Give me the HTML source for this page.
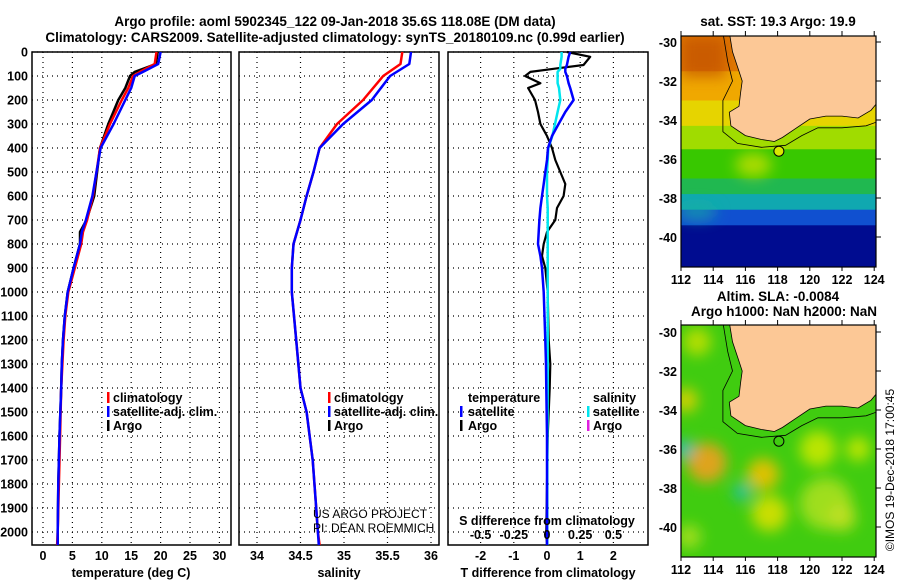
<!DOCTYPE html>
<html><head><meta charset="utf-8">
<style>
body{margin:0;background:#fff;}
svg{display:block;font-family:"Liberation Sans",sans-serif;}
.t{font-size:13.5px;fill:#000;font-weight:bold;}
.tk{font-size:12.5px;font-weight:bold;fill:#000;}
.lg{font-size:12.5px;font-weight:bold;fill:#000;}
.cr{font-size:12px;fill:#000;}
</style></head><body>
<svg id="s" width="900" height="580" viewBox="0 0 900 580">
<defs><filter id="blur" x="-50%" y="-50%" width="200%" height="200%"><feGaussianBlur stdDeviation="7"/></filter></defs>
<text class="t" x="335" y="26" text-anchor="middle">Argo profile: aoml 5902345_122 09-Jan-2018 35.6S 118.08E (DM data)</text>
<text class="t" x="335" y="42" text-anchor="middle">Climatology: CARS2009. Satellite-adjusted climatology: synTS_20180109.nc (0.99d earlier)</text>
<text class="t" x="778" y="26" text-anchor="middle" font-size="13">sat. SST: 19.3 Argo: 19.9</text>
<text class="t" x="778" y="301" text-anchor="middle" font-size="13">Altim. SLA: -0.0084</text>
<text class="t" x="784" y="316" text-anchor="middle" font-size="13">Argo h1000: NaN h2000: NaN</text>
<text class="cr" x="0" y="0" transform="translate(894,470) rotate(-90)" text-anchor="middle" font-size="13">©IMOS 19-Dec-2018 17:00:45</text>
<g id="plots"></g>
</svg>
<script>
// ---- data ----
const depthT = [0,50,83,100,150,200,300,400,500,600,700,750,800,900,1000,1100,1200,1300,1400,1600,1800,2000,2054];
const tempArgo = [19.5,19.2,15.6,14.8,14.0,12.8,11.1,9.7,9.2,8.7,7.4,6.3,6.3,5.2,4.2,3.7,3.4,3.2,3.1,2.8,2.6,2.5,2.5];
const tempClim = [19.3,19.0,16.5,15.3,14.5,13.4,11.4,9.7,9.1,8.5,7.5,6.8,6.5,5.4,4.3,3.8,3.5,3.3,3.1,2.9,2.7,2.5,2.4];
const tempSat  = [20.0,19.6,17.0,15.6,15.0,14.0,12.0,9.8,9.1,8.4,7.3,6.6,6.3,5.2,4.2,3.7,3.4,3.2,3.1,2.8,2.6,2.5,2.5];
const depthS = [0,50,100,200,300,400,500,600,700,800,900,1000,1200,1400,1500,1700,1900,2000,2054];
const salClim = [35.67,35.65,35.45,35.22,34.92,34.72,34.65,34.57,34.50,34.42,34.40,34.40,34.45,34.50,34.57,34.64,34.68,34.70,34.72];
const salSat  = [35.77,35.75,35.53,35.32,34.99,34.72,34.65,34.57,34.50,34.42,34.40,34.40,34.45,34.50,34.57,34.64,34.68,34.70,34.71];
const depthD = [0,20,54,70,83,100,130,150,200,250,300,350,400,450,500,550,600,650,700,750,800,850,900,1000,1200,1300,1400,1600,1800,2000,2054];
const dTArgo = [0.6,1.3,1.1,0.2,-0.5,-0.66,-0.2,-0.57,-0.36,-0.27,-0.2,0,0.15,0.25,0.4,0.55,0.5,0.3,0.25,0,-0.1,-0.15,-0.05,0.02,0.05,0.1,0.08,0.02,0,-0.02,0];
const dTSat  = [0.7,0.65,0.6,0.55,0.55,0.6,0.65,0.7,0.8,0.55,0.35,0.15,0.03,0,-0.05,-0.1,-0.15,-0.2,-0.23,-0.25,-0.27,-0.2,-0.15,-0.1,-0.05,-0.03,-0.02,0,0,0,0];
const dSSat  = [0.11,0.11,0.1,0.1,0.08,0.08,0.08,0.09,0.1,0.08,0.06,0.04,0.01,0.005,0,0,0,0.005,0.005,0.005,0.005,0.005,0.005,0.005,0.005,0.005,0.005,0.003,0.002,0.002,0.002];
const depthTicks = [0,100,200,300,400,500,600,700,800,900,1000,1100,1200,1300,1400,1500,1600,1700,1800,1900,2000];
const tTicks = [0,5,10,15,20,25,30];
const sTicks = [34,34.5,35,35.5,36];
const dTicks = [-2,-1,0,1,2];
const dsTicks = [-0.5,-0.25,0,0.25,0.5];
const dsLabels = ['-0.5','-0.25','0','0.25','0.5'];
const lats = [-30,-32,-34,-36,-38,-40];
const lons = [112,114,116,118,120,122,124];

const NS='http://www.w3.org/2000/svg';
const root=document.getElementById('plots');
function el(tag,attrs,parent){const e=document.createElementNS(NS,tag);for(const k in attrs)e.setAttribute(k,attrs[k]);(parent||root).appendChild(e);return e;}
const yD = d => 52 + d*0.24;
const PT=52, PB=545;

function panel(name,x0,x1,xs,ticks,labels){
  const g=el('g',{});
  
  
  depthTicks.forEach(d=>{const l=el('line',{x1:x0,x2:x1,y1:yD(d),y2:yD(d),stroke:'#000','stroke-dasharray':'1 4','stroke-width':1.2},g);
    });
  ticks.forEach((v,i)=>{const x=xs(v);
    const l=el('line',{x1:x,x2:x,y1:PT,y2:PB,stroke:'#000','stroke-dasharray':'1 4','stroke-width':1.2},g);
    
    const t=el('text',{x:x,y:560,'text-anchor':'middle',class:'tk'},g);t.textContent=labels?labels[i]:String(v);
    });
  const r=el('rect',{x:x0,y:PT,width:x1-x0,height:PB-PT,fill:'none',stroke:'#000','stroke-width':1.5},g);
  
  return g;
}
function line(g,depths,vals,xs,color,name,w){
  const pts=depths.map((d,i)=>xs(vals[i]).toFixed(1)+','+yD(d).toFixed(1)).join(' ');
  const p=el('polyline',{points:pts,fill:'none',stroke:color,'stroke-width':w||2.5,'stroke-linejoin':'round'},g);
  
}
function txt(g,x,y,s,cls,name,extra){const t=el('text',Object.assign({x:x,y:y,class:cls},extra||{}),g);t.textContent=s;
  return t;}
function legTick(g,x,y,c){const l=el('rect',{x:x,y:y-10,width:2.5,height:11,fill:c},g);
  }

depthTicks.forEach(d=>{const t=el('text',{x:28,y:yD(d)+4.5,'text-anchor':'end',class:'tk'});t.textContent=d;
  });

const xT=v=>43+v*5.88;
const g1=panel('temperature-panel',32,231,xT,tTicks);
line(g1,depthT,tempArgo,xT,'#000','argo-temperature-line');
line(g1,depthT,tempClim,xT,'#f00','climatology-temperature-line');
line(g1,depthT,tempSat,xT,'#00f','satellite-temperature-line');
txt(g1,131,577,'temperature (deg C)','tk','x-axis-title',{'text-anchor':'middle'});
[['#f00','climatology'],['#00f','satellite-adj. clim.'],['#000','Argo']].forEach((e,i)=>{legTick(g1,107,402+i*14,e[0]);txt(g1,113,402+i*14,e[1],'lg','legend-entry');});

const xS=v=>257+(v-34)*87;
const g2=panel('salinity-panel',239,439,xS,sTicks);
line(g2,depthS,salClim,xS,'#f00','climatology-salinity-line');
line(g2,depthS,salSat,xS,'#00f','satellite-salinity-line');
txt(g2,339,577,'salinity','tk','x-axis-title',{'text-anchor':'middle'});
[['#f00','climatology'],['#00f','satellite-adj. clim.'],['#000','Argo']].forEach((e,i)=>{legTick(g2,328,402+i*14,e[0]);txt(g2,334,402+i*14,e[1],'lg','legend-entry');});
txt(g2,313,518,'US ARGO PROJECT','cr','project-credit');
txt(g2,313,532,'PI: DEAN ROEMMICH','cr','pi-credit');

const xD=v=>547+v*33.2;
const xDS=v=>547+v*132.8;
const g3=panel('difference-panel',448,648,xD,dTicks);
line(g3,depthD,dTArgo,xD,'#000','argo-temp-diff-line',2.2);
line(g3,depthD,dSSat,xDS,'#00e5ee','satellite-sal-diff-line',2.5);
line(g3,depthD,dTSat,xD,'#00f','satellite-temp-diff-line',2.5);
txt(g3,548,577,'T difference from climatology','tk','x-axis-title',{'text-anchor':'middle'});
txt(g3,547,525,'S difference from climatology','tk','s-axis-title',{'text-anchor':'middle'});
dsTicks.forEach((v,i)=>txt(g3,xDS(v),539,dsLabels[i],'tk','s-tick-label',{'text-anchor':'middle'}));
txt(g3,468,402,'temperature','lg','legend-heading');
legTick(g3,460,416,'#00f');txt(g3,468,416,'satellite','lg','legend-entry');
legTick(g3,460,430,'#000');txt(g3,468,430,'Argo','lg','legend-entry');
txt(g3,593,402,'salinity','lg','legend-heading');
legTick(g3,587,416,'#00e5ee');txt(g3,593,416,'satellite','lg','legend-entry');
legTick(g3,587,430,'#e020e0');txt(g3,593,430,'Argo','lg','legend-entry');

function map(name,top,bot,latTop,kind){
  const L=681,R=876;
  const ys=v=>latTop+(-30-v)*19.5, xs=v=>681+(v-112)*16.1;
  const g=el('g',{});
  const id='c'+kind;
  const cp=el('clipPath',{id:id},g);el('rect',{x:L,y:top,width:R-L,height:bot-top},cp);
  const inner=el('g',{'clip-path':'url(#'+id+')'},g);
  if(kind==='sst'){
    const bands=[[-29.7,-31.5,'#e07800'],[-31.5,-33,'#f0a800'],[-33,-34.3,'#e6d400'],[-34.3,-35.5,'#a0dc00'],[-35.5,-37,'#38c800'],[-37,-37.8,'#20b850'],[-37.8,-38.6,'#10a8b0'],[-38.6,-39.4,'#1050d0'],[-39.4,-42,'#000c90']];
    bands.forEach(b=>{el('rect',{x:L,y:ys(b[0]),width:R-L,height:ys(b[1])-ys(b[0])+1,fill:b[2]},inner);});
    const bl=el('g',{filter:'url(#blur)'},inner);
    el('rect',{x:L,y:ys(-29.7),width:45,height:ys(-31.8)-ys(-29.7),fill:'#c05000',opacity:0.7},bl);
    el('ellipse',{cx:xs(116.5),cy:ys(-36.3),rx:18,ry:12,fill:'#c8e000',opacity:0.8},bl);
    el('ellipse',{cx:xs(113),cy:ys(-38.7),rx:20,ry:8,fill:'#20b0a0',opacity:0.7},bl);
  } else {
    el('rect',{x:L,y:top,width:R-L,height:bot-top,fill:'#40cc10'},inner);
    const bl=el('g',{filter:'url(#blur)'},inner);
    [[113.6,-36.7,20,'#f0a020'],[117.1,-37.3,16,'#f0c000'],[117.5,-39.3,18,'#d8e000'],[120.5,-36,18,'#c8e800'],[123,-36,12,'#c8e800'],[112.3,-33.5,12,'#e0d000'],[113,-30.5,14,'#c0e000'],[112.2,-36,9,'#20b8d0'],[115.8,-38.2,9,'#20c0b0'],[121,-38.8,26,'#a8e020'],[122,-39.5,14,'#c0e020'],[112.5,-40.5,12,'#a8e020']].forEach(b=>{
      el('circle',{cx:xs(b[0]),cy:ys(b[1]),r:b[2],fill:b[3],opacity:0.9},bl);});
  }
  const coast=[[115,-29.5],[115.2,-30.5],[115.6,-31.5],[115.8,-32],[115.7,-32.6],[115.6,-33.3],[115.0,-33.6],[115.1,-34.3],[116,-34.8],[117,-35.0],[117.8,-35.1],[118.3,-34.9],[119,-34.5],[120,-33.95],[121,-33.8],[122,-33.8],[123,-33.9],[123.8,-33.5],[124.5,-32.8],[124.5,-29.5]];
  const pts=coast.map(p=>xs(p[0]).toFixed(1)+','+ys(p[1]).toFixed(1)).join(' ');
  const land=el('polygon',{points:pts,fill:'#fcc896',stroke:'#000','stroke-width':0.8},inner);
  
  const iso=[[114.6,-29.5],[114.9,-31],[115.2,-32],[114.6,-33],[114.6,-34.6],[115.5,-35.2],[117,-35.4],[118.5,-35.3],[119.5,-34.8],[120.5,-34.4],[122,-34.4],[123.5,-34.3],[124.5,-34.0]];
  const il=el('polyline',{points:iso.map(p=>xs(p[0]).toFixed(1)+','+ys(p[1]).toFixed(1)).join(' '),fill:'none',stroke:'#000','stroke-width':0.8},inner);
  
  const fc=el('circle',{cx:xs(118.08),cy:ys(-35.6),r:5,fill:kind==='sst'?'#d8e800':'none',stroke:'#000','stroke-width':1},g);
  
  const fr=el('rect',{x:L,y:top,width:R-L,height:bot-top,fill:'none',stroke:'#000','stroke-width':1.2},g);
  
  lats.forEach(v=>{el('line',{x1:R,x2:R+5,y1:ys(v),y2:ys(v),stroke:'#000'},g);txt(g,677,ys(v)+5,String(v),'tk','lat-tick-label',{'text-anchor':'end'});});
  lons.forEach(v=>{el('line',{x1:xs(v),x2:xs(v),y1:top,y2:top-5,stroke:'#000'},g);el('line',{x1:xs(v),x2:xs(v),y1:bot,y2:bot+4,stroke:'#000'},g);txt(g,xs(v),bot+17,String(v),'tk','lon-tick-label',{'text-anchor':'middle'});});
}
map('sst-map',36,267,42,'sst');
map('sla-map',325,557,332,'sla');
</script>
</body></html>
